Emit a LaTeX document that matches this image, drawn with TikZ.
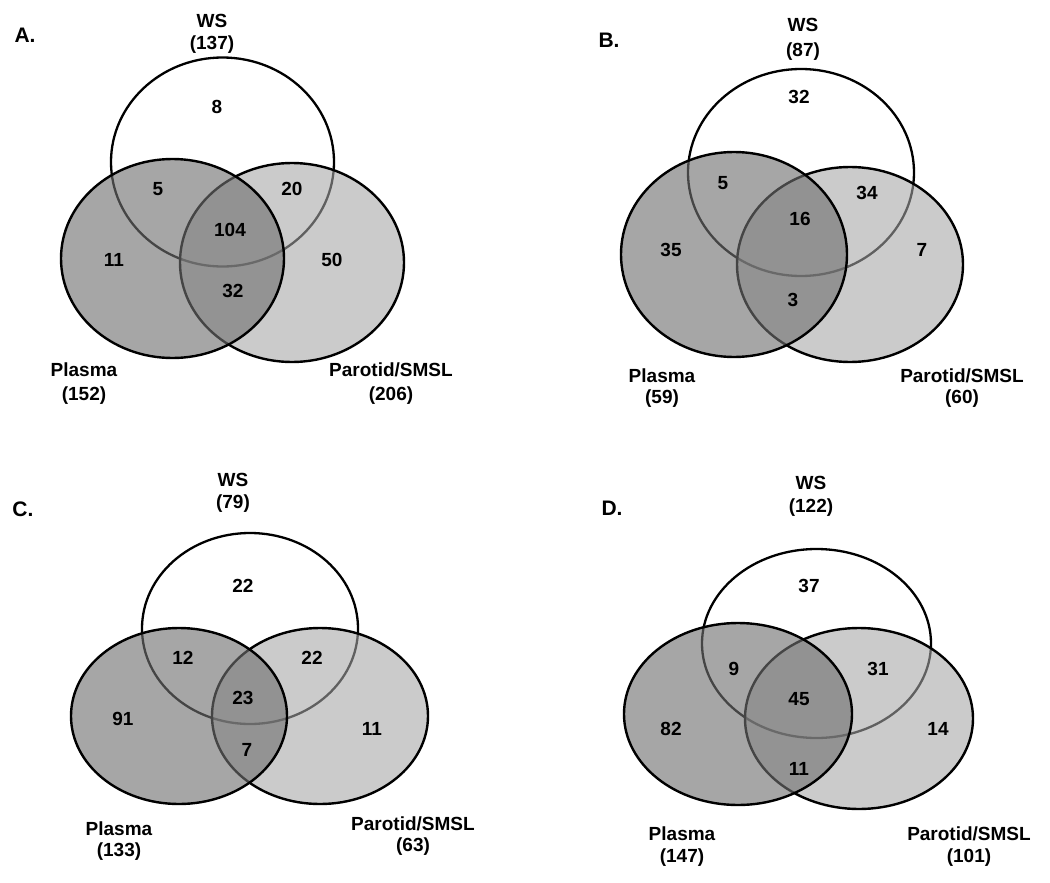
\documentclass[tikz,border=0pt]{standalone}
\usepackage{fontspec}
\setmainfont{Liberation Sans}
\usepackage{tikz}

\definecolor{plasmagray}{gray}{0.44}
\definecolor{parotidgray}{gray}{0.65}

\tikzset{
  ws/.style={draw=black,fill=white,line width=2.3pt},
  parotid/.style={draw=black,fill=parotidgray,fill opacity=0.58,line width=2.4pt},
  plasma/.style={draw=black,fill=plasmagray,fill opacity=0.62,line width=2.4pt},
  lbl/.style={font=\fontsize{19}{22}\selectfont\bfseries,inner sep=0pt},
  panel/.style={font=\fontsize{21}{24}\selectfont\bfseries,inner sep=0pt}
}

\begin{document}
\begin{tikzpicture}[x=1pt,y=-1pt]
\useasboundingbox (0,0) rectangle (1050,883);

% A.
\begin{scope}
\draw[ws] (222.5,162) ellipse [x radius=111.5,y radius=104.5];
\draw[parotid] (292,262.5) ellipse [x radius=112,y radius=99.5];
\draw[plasma] (172.5,258.5) ellipse [x radius=111.5,y radius=99.5];
\node[panel] (panA) at (25,35) {A.};
\node[lbl] (wsA) at (212,21) {WS};
\node[lbl] (wsAn) at (212,45) {(137)};
\node[lbl] (plasmaA) at (84,370) {Plasma};
\node[lbl] (plasmaAn) at (84,396) {(152)};
\node[lbl] (parotidA) at (391,370) {Parotid/SMSL};
\node[lbl] (parotidAn) at (391,396) {(206)};
\node[lbl] (wsonlyA) at (217,107) {8};
\node[lbl] (wsplA) at (158,189) {5};
\node[lbl] (wspaA) at (292,189) {20};
\node[lbl] (allA) at (230,230) {104};
\node[lbl] (plonlyA) at (114,260) {11};
\node[lbl] (paonlyA) at (332,260) {50};
\node[lbl] (plpaA) at (233,291) {32};
\end{scope}

% B.
\begin{scope}[shift={(525,0)}]
\draw[ws] (276,172.5) ellipse [x radius=113,y radius=103.5];
\draw[parotid] (325,264.5) ellipse [x radius=113,y radius=97.5];
\draw[plasma] (209,254.5) ellipse [x radius=113,y radius=102.5];
\node[panel] (panB) at (84,40) {B.};
\node[lbl] (wsB) at (278,25) {WS};
\node[lbl] (wsBn) at (278,52) {(87)};
\node[lbl] (plasmaB) at (137,376) {Plasma};
\node[lbl] (plasmaBn) at (137,399) {(59)};
\node[lbl] (parotidB) at (437,376) {Parotid/SMSL};
\node[lbl] (parotidBn) at (437,399) {(60)};
\node[lbl] (wsonlyB) at (274,97) {32};
\node[lbl] (wsplB) at (198,183) {5};
\node[lbl] (wspaB) at (342,193) {34};
\node[lbl] (allB) at (275,219) {16};
\node[lbl] (plonlyB) at (146,250) {35};
\node[lbl] (paonlyB) at (397,250) {7};
\node[lbl] (plpaB) at (268,300) {3};
\end{scope}

% C.
\begin{scope}[shift={(0,441)}]
\draw[ws] (250,187.5) ellipse [x radius=108,y radius=95.5];
\draw[parotid] (320,275) ellipse [x radius=108,y radius=88];
\draw[plasma] (179,275) ellipse [x radius=108,y radius=88];
\node[panel] (panC) at (23,68) {C.};
\node[lbl] (wsC) at (233,39) {WS};
\node[lbl] (wsCn) at (233,63) {(79)};
\node[lbl] (plasmaC) at (119,388) {Plasma};
\node[lbl] (plasmaCn) at (119,411) {(133)};
\node[lbl] (parotidC) at (413,383) {Parotid/SMSL};
\node[lbl] (parotidCn) at (413,406) {(63)};
\node[lbl] (wsonlyC) at (243,145) {22};
\node[lbl] (wsplC) at (183,217) {12};
\node[lbl] (wspaC) at (312,217) {22};
\node[lbl] (allC) at (243,257) {23};
\node[lbl] (plonlyC) at (123,278) {91};
\node[lbl] (paonlyC) at (372,288) {11};
\node[lbl] (plpaC) at (247,309) {7};
\end{scope}

% D.
\begin{scope}[shift={(525,441)}]
\draw[ws] (291.5,202.5) ellipse [x radius=114.5,y radius=94.5];
\draw[parotid] (334,277.5) ellipse [x radius=114,y radius=90.5];
\draw[plasma] (213,273) ellipse [x radius=114,y radius=91];
\node[panel] (panD) at (87,67) {D.};
\node[lbl] (wsD) at (286,42) {WS};
\node[lbl] (wsDn) at (286,67) {(122)};
\node[lbl] (plasmaD) at (157,393) {Plasma};
\node[lbl] (plasmaDn) at (157,417) {(147)};
\node[lbl] (parotidD) at (444,393) {Parotid/SMSL};
\node[lbl] (parotidDn) at (444,417) {(101)};
\node[lbl] (wsonlyD) at (284,145) {37};
\node[lbl] (wsplD) at (209,228) {9};
\node[lbl] (wspaD) at (353,228) {31};
\node[lbl] (allD) at (274,258) {45};
\node[lbl] (plonlyD) at (146,288) {82};
\node[lbl] (paonlyD) at (413,288) {14};
\node[lbl] (plpaD) at (274,328) {11};
\end{scope}
\end{tikzpicture}
\end{document}
